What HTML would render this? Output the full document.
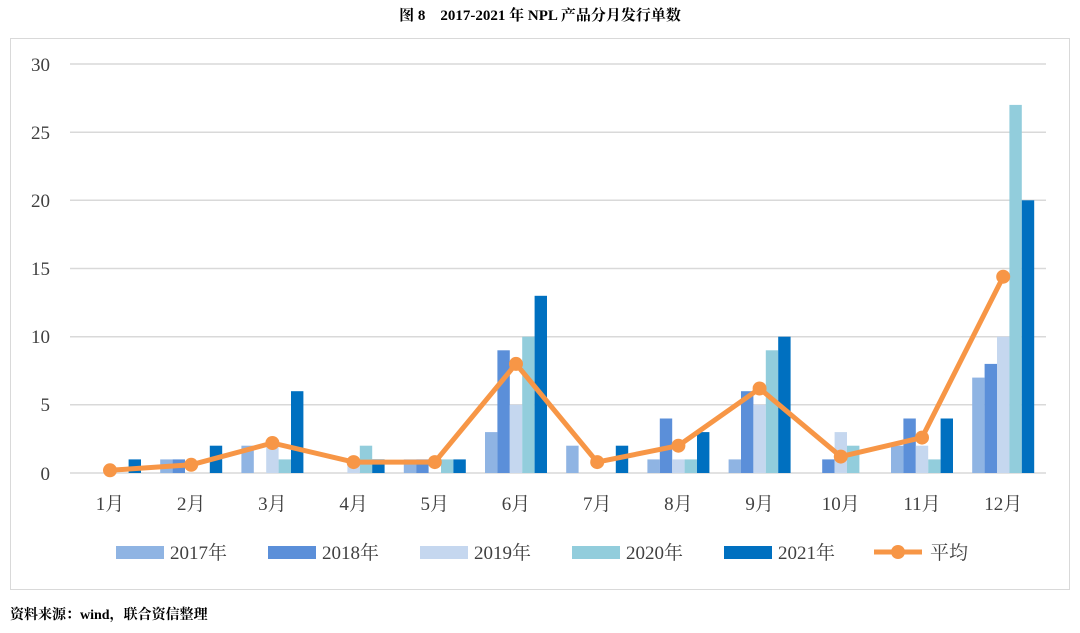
<!DOCTYPE html>
<html><head><meta charset="utf-8"><style>
body{margin:0;background:#fff;}
svg text{font-family:"Liberation Serif","Noto Serif CJK SC",serif;}
</style></head><body>
<svg width="1080" height="628" xmlns="http://www.w3.org/2000/svg">
<text x="540" y="20" text-anchor="middle" font-size="15" font-weight="bold" fill="#000">图 8　2017-2021 年 NPL 产品分月发行单数</text>
<rect x="10.5" y="38.5" width="1059" height="551" fill="none" stroke="#d9d9d9"/>
<g stroke="#d9d9d9" stroke-width="1.5">
<line x1="70" x2="1046" y1="64" y2="64"/><line x1="70" x2="1046" y1="132.2" y2="132.2"/>
<line x1="70" x2="1046" y1="200.3" y2="200.3"/><line x1="70" x2="1046" y1="268.5" y2="268.5"/>
<line x1="70" x2="1046" y1="336.7" y2="336.7"/><line x1="70" x2="1046" y1="404.8" y2="404.8"/>
<line x1="70" x2="1046" y1="473" y2="473"/></g>
<g font-size="19" fill="#404040" text-anchor="end">
<text x="50" y="71">30</text><text x="50" y="139">25</text><text x="50" y="207">20</text>
<text x="50" y="275">15</text><text x="50" y="343">10</text><text x="50" y="411">5</text><text x="50" y="480">0</text></g>
<g>
<rect x="128.6" y="459.4" width="12.4" height="13.6" fill="#0070C0"/>
<rect x="160.2" y="459.4" width="12.4" height="13.6" fill="#8FB4E3"/>
<rect x="172.6" y="459.4" width="12.4" height="13.6" fill="#5B8FD9"/>
<rect x="209.8" y="445.7" width="12.4" height="27.3" fill="#0070C0"/>
<rect x="241.4" y="445.7" width="12.4" height="27.3" fill="#8FB4E3"/>
<rect x="266.2" y="445.7" width="12.4" height="27.3" fill="#C5D7EF"/>
<rect x="278.6" y="459.4" width="12.4" height="13.6" fill="#92CDDC"/>
<rect x="291" y="391.2" width="12.4" height="81.8" fill="#0070C0"/>
<rect x="347.4" y="459.4" width="12.4" height="13.6" fill="#C5D7EF"/>
<rect x="359.8" y="445.7" width="12.4" height="27.3" fill="#92CDDC"/>
<rect x="372.2" y="459.4" width="12.4" height="13.6" fill="#0070C0"/>
<rect x="403.8" y="459.4" width="12.4" height="13.6" fill="#8FB4E3"/>
<rect x="416.2" y="459.4" width="12.4" height="13.6" fill="#5B8FD9"/>
<rect x="441" y="459.4" width="12.4" height="13.6" fill="#92CDDC"/>
<rect x="453.4" y="459.4" width="12.4" height="13.6" fill="#0070C0"/>
<rect x="485" y="432.1" width="12.4" height="40.9" fill="#8FB4E3"/>
<rect x="497.4" y="350.3" width="12.4" height="122.7" fill="#5B8FD9"/>
<rect x="509.8" y="404.8" width="12.4" height="68.2" fill="#C5D7EF"/>
<rect x="522.2" y="336.7" width="12.4" height="136.3" fill="#92CDDC"/>
<rect x="534.6" y="295.8" width="12.4" height="177.2" fill="#0070C0"/>
<rect x="566.2" y="445.7" width="12.4" height="27.3" fill="#8FB4E3"/>
<rect x="615.8" y="445.7" width="12.4" height="27.3" fill="#0070C0"/>
<rect x="647.4" y="459.4" width="12.4" height="13.6" fill="#8FB4E3"/>
<rect x="659.8" y="418.5" width="12.4" height="54.5" fill="#5B8FD9"/>
<rect x="672.2" y="459.4" width="12.4" height="13.6" fill="#C5D7EF"/>
<rect x="684.6" y="459.4" width="12.4" height="13.6" fill="#92CDDC"/>
<rect x="697" y="432.1" width="12.4" height="40.9" fill="#0070C0"/>
<rect x="728.6" y="459.4" width="12.4" height="13.6" fill="#8FB4E3"/>
<rect x="741" y="391.2" width="12.4" height="81.8" fill="#5B8FD9"/>
<rect x="753.4" y="404.8" width="12.4" height="68.2" fill="#C5D7EF"/>
<rect x="765.8" y="350.3" width="12.4" height="122.7" fill="#92CDDC"/>
<rect x="778.2" y="336.7" width="12.4" height="136.3" fill="#0070C0"/>
<rect x="822.2" y="459.4" width="12.4" height="13.6" fill="#5B8FD9"/>
<rect x="834.6" y="432.1" width="12.4" height="40.9" fill="#C5D7EF"/>
<rect x="847" y="445.7" width="12.4" height="27.3" fill="#92CDDC"/>
<rect x="891" y="445.7" width="12.4" height="27.3" fill="#8FB4E3"/>
<rect x="903.4" y="418.5" width="12.4" height="54.5" fill="#5B8FD9"/>
<rect x="915.8" y="445.7" width="12.4" height="27.3" fill="#C5D7EF"/>
<rect x="928.2" y="459.4" width="12.4" height="13.6" fill="#92CDDC"/>
<rect x="940.6" y="418.5" width="12.4" height="54.5" fill="#0070C0"/>
<rect x="972.2" y="377.6" width="12.4" height="95.4" fill="#8FB4E3"/>
<rect x="984.6" y="363.9" width="12.4" height="109.1" fill="#5B8FD9"/>
<rect x="997" y="336.7" width="12.4" height="136.3" fill="#C5D7EF"/>
<rect x="1009.4" y="104.9" width="12.4" height="368.1" fill="#92CDDC"/>
<rect x="1021.8" y="200.3" width="12.4" height="272.7" fill="#0070C0"/>
</g>
<g font-size="19" fill="#404040" text-anchor="middle">
<text x="110" y="510">1月</text><text x="191.2" y="510">2月</text><text x="272.4" y="510">3月</text>
<text x="353.6" y="510">4月</text><text x="434.8" y="510">5月</text><text x="516" y="510">6月</text>
<text x="597.2" y="510">7月</text><text x="678.4" y="510">8月</text><text x="759.6" y="510">9月</text>
<text x="840.8" y="510">10月</text><text x="922" y="510">11月</text><text x="1003.2" y="510">12月</text>
</g>
<polyline points="110,470.3 191.2,464.8 272.4,443 353.6,462.1 434.8,462.1 516,363.9 597.2,462.1 678.4,445.7 759.6,388.5 840.8,456.6 922,437.6 1003.2,276.7" fill="none" stroke="#F79646" stroke-width="5" stroke-linejoin="round"/>
<g fill="#F79646">
<circle cx="110" cy="470.3" r="7"/><circle cx="191.2" cy="464.8" r="7"/><circle cx="272.4" cy="443" r="7"/>
<circle cx="353.6" cy="462.1" r="7"/><circle cx="434.8" cy="462.1" r="7"/><circle cx="516" cy="363.9" r="7"/>
<circle cx="597.2" cy="462.1" r="7"/><circle cx="678.4" cy="445.7" r="7"/><circle cx="759.6" cy="388.5" r="7"/>
<circle cx="840.8" cy="456.6" r="7"/><circle cx="922" cy="437.6" r="7"/><circle cx="1003.2" cy="276.7" r="7"/>
</g>
<g font-size="19" fill="#404040">
<rect x="116" y="546" width="48" height="13" fill="#8FB4E3"/><text x="170" y="559">2017年</text>
<rect x="268" y="546" width="48" height="13" fill="#5B8FD9"/><text x="322" y="559">2018年</text>
<rect x="420" y="546" width="48" height="13" fill="#C5D7EF"/><text x="474" y="559">2019年</text>
<rect x="572" y="546" width="48" height="13" fill="#92CDDC"/><text x="626" y="559">2020年</text>
<rect x="724" y="546" width="48" height="13" fill="#0070C0"/><text x="778" y="559">2021年</text>
<line x1="874" x2="922" y1="552" y2="552" stroke="#F79646" stroke-width="5"/><circle cx="898" cy="552" r="7" fill="#F79646"/><text x="930" y="559">平均</text>
</g>
<text x="10" y="619" font-size="14" font-weight="bold" fill="#000">资料来源：wind，联合资信整理</text>
</svg>
</body></html>
